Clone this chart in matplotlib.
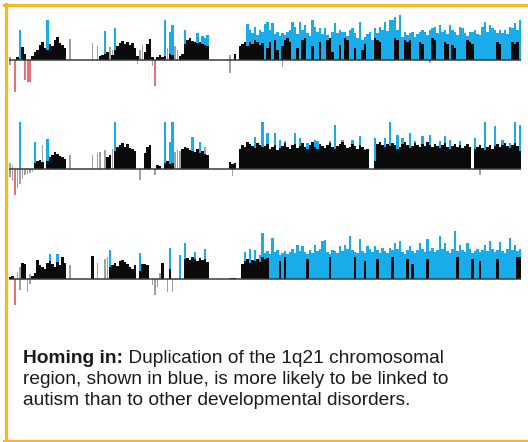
import numpy as np
import matplotlib.pyplot as plt
from matplotlib.lines import Line2D

# bar heights (pixels above / below the baseline), one entry per bar slot
r1_blue = [0,0,0,0,30,0,0,0,0,0,
           0,0,0,0,0,40,0,0,0,0,
           0,0,0,0,0,0,0,0,0,0,
           0,0,0,0,0,0,0,0,29,0,
           0,0,32,0,0,0,0,0,0,0,
           0,0,0,0,0,0,0,0,0,0,
           0,0,40,0,28,35,0,0,0,0,
           30,0,0,0,0,27,0,24,22,25,
           0,0,0,0,0,0,0,0,0,0,
           0,0,0,0,0,36,30,27,33,25,
           30,28,36,38,30,37,26,28,24,27,
           25,28,30,38,33,26,38,30,35,27,
           24,40,33,28,32,26,32,25,20,28,
           37,27,30,28,28,24,30,32,27,22,
           38,20,23,26,28,20,32,27,33,30,
           38,29,40,40,43,30,45,23,28,25,
           27,28,23,26,28,30,28,25,30,32,
           33,27,35,28,30,26,35,30,28,25,
           33,32,27,24,28,28,30,26,25,33,
           38,28,35,32,30,27,30,27,30,26,
           33,32,37,30,40]
r1_black = [0,0,0,3,0,13,6,0,0,4,
            8,10,15,18,12,10,16,14,20,23,
            17,15,12,0,0,0,0,0,0,0,
            0,0,0,0,0,0,4,5,6,8,
            0,5,10,14,17,19,16,18,15,17,
            12,4,0,0,8,16,21,3,0,3,
            5,3,4,0,6,5,0,0,4,6,
            16,20,22,19,18,17,18,16,15,14,
            0,0,0,0,0,0,0,0,0,0,
            6,0,14,16,18,14,18,16,20,18,
            15,17,0,12,18,0,20,10,0,14,
            20,22,18,0,0,12,0,20,22,0,
            0,14,0,0,18,0,0,20,22,8,
            0,0,15,0,22,20,0,0,12,0,
            0,10,16,0,0,0,22,20,18,0,
            0,0,0,0,22,20,0,0,20,18,
            20,0,0,0,18,16,0,0,0,22,
            20,0,0,0,18,16,0,15,12,0,
            0,0,0,20,18,16,0,0,0,0,
            0,0,0,0,0,18,16,0,0,0,
            0,18,16,18,0]
r1_grey_up = [(0,3),(24,21),(33,17),(35,14),(40,13),(41,10),(52,10),(53,15),
              (63,12),(66,14),(67,10),(88,5)]
r1_grey_dn = [(0,5),(7,10),(51,4),(57,6),(88,13),(109,7),(168,3)]
r1_red_dn = [(2,32),(6,20),(7,22),(8,22),(58,26)]

r2_blue = [0,0,0,0,47,0,0,0,0,0,
           27,0,0,0,0,30,0,0,0,0,
           0,0,0,0,0,0,0,0,0,0,
           0,0,0,0,0,0,0,0,0,0,
           0,0,47,0,0,0,0,0,0,0,
           0,0,0,0,0,0,0,0,0,0,
           0,0,47,0,27,47,0,0,0,0,
           0,0,0,32,0,0,27,0,0,0,
           0,0,0,0,0,0,0,0,0,0,
           0,0,0,0,0,0,0,0,32,0,
           0,47,0,36,0,0,36,0,29,0,
           28,0,0,0,36,0,31,0,0,26,
           0,0,29,28,0,0,0,0,28,0,
           44,0,0,29,0,0,0,29,0,0,
           33,0,0,0,0,0,31,0,0,0,
           31,0,47,0,0,34,0,31,0,0,
           36,0,28,0,0,33,0,0,34,0,
           0,0,28,0,33,0,29,0,0,0,
           28,0,0,0,0,0,31,0,0,0,
           47,0,0,0,43,0,0,29,0,0,
           26,0,47,0,44]
r2_black = [0,0,0,0,0,0,0,0,0,0,
            6,8,9,7,0,8,12,14,17,15,
            13,12,10,0,0,0,0,0,0,0,
            0,0,0,0,0,0,0,0,0,12,
            14,0,18,22,24,26,22,25,21,20,
            18,0,0,0,16,22,24,0,0,4,
            3,0,6,8,5,6,0,0,0,20,
            22,21,19,18,17,20,16,18,15,14,
            0,0,0,0,0,0,0,0,7,5,
            6,0,20,24,22,27,25,23,21,26,
            24,22,23,25,20,22,24,19,21,23,
            26,22,20,24,25,21,23,26,22,20,
            24,27,22,20,25,23,21,24,26,22,
            20,23,25,27,24,21,22,25,23,20,
            24,22,19,20,0,0,8,25,27,24,
            22,25,23,26,24,20,22,25,27,24,
            21,23,26,24,22,25,23,27,24,22,
            25,23,21,24,26,22,20,23,25,22,
            24,21,23,25,22,0,20,22,24,21,
            19,22,24,20,23,25,22,24,26,23,
            21,24,26,23,18]
r2_grey_up = [(0,6),(1,4),(13,24),(24,14),(33,14),(35,16),(36,17),(38,19),(41,20),
              (66,17),(67,19),(68,18),(78,22),(142,20)]
r2_grey_dn = [(0,8),(1,12),(3,19),(4,15),(5,10),(6,6),(7,5),(8,4),(9,3),
              (52,11),(58,6),(89,7),(188,6)]
r2_red_dn = [(2,26)]

r3_blue = [0,0,0,0,0,0,0,0,0,0,
           0,0,0,0,0,0,25,0,0,25,
           0,0,0,0,0,0,0,0,0,0,
           0,0,0,0,0,0,0,0,0,0,
           29,0,0,0,0,0,0,0,0,0,
           0,0,26,0,0,0,0,0,0,0,
           0,0,0,0,31,0,0,0,24,0,
           36,0,0,0,27,0,0,0,30,0,
           0,0,0,0,0,0,0,0,0,0,
           0,0,0,0,27,0,30,0,29,0,
           24,46,26,28,25,41,27,29,24,26,
           28,25,27,30,26,34,28,33,27,25,
           29,26,34,28,30,38,39,27,25,29,
           28,26,33,28,34,30,43,29,27,26,
           40,28,26,33,30,27,33,29,26,31,
           28,26,31,29,36,30,38,27,25,29,
           33,28,26,29,36,30,27,40,28,31,
           27,29,43,30,36,28,26,30,49,28,
           34,29,27,36,30,26,28,30,27,29,
           34,28,38,30,27,29,37,28,26,30,
           41,29,34,28,30]
r3_black = [2,3,0,0,0,16,15,0,0,3,
            6,19,14,12,10,16,18,15,12,17,
            14,22,16,0,0,0,0,0,0,0,
            0,0,0,23,0,0,0,0,0,0,
            12,14,16,13,18,19,17,15,12,10,
            14,0,8,15,15,14,0,0,0,0,
            0,16,0,0,10,0,0,0,0,0,
            20,21,19,22,20,18,21,19,20,17,
            0,0,0,0,0,0,0,0,1,1,
            1,0,0,15,18,20,16,19,18,20,
            17,22,20,21,0,0,0,0,18,0,
            22,0,0,0,0,0,0,0,0,20,
            0,0,0,0,0,0,0,0,22,0,
            0,0,0,0,0,0,0,0,22,0,
            0,0,18,0,0,0,0,20,0,0,
            0,0,0,22,0,0,0,0,0,20,
            0,15,0,0,0,0,0,20,0,0,
            0,0,0,0,0,0,0,0,0,22,
            0,0,0,0,0,20,0,0,18,0,
            0,0,0,0,0,20,0,0,0,0,
            0,0,0,22,22]
r3_grey_up = [(3,7),(4,12),(8,5),(24,14),(35,16),(38,20),(39,22),(60,6)]
r3_grey_dn = [(4,11),(7,13),(8,5),(57,6),(58,16),(59,8),(63,13),(65,13)]
r3_red_dn = [(2,26)]

caption_bold = "Homing in:"
caption_lines = [" Duplication of the 1q21 chromosomal",
                 "region, shown in blue, is more likely to be linked to",
                 "autism than to other developmental disorders."]

W, H = 528, 442
BLUE = '#18acea'
BLACK = '#0a0a0a'
GREY = '#a0a0a0'
RED = '#e8707a'
GOLD = '#f6b922'

fig = plt.figure(figsize=(W / 100, H / 100), dpi=100)


def box(x0, top, x1, bot):
    return [x0 / W, 1 - bot / H, (x1 - x0) / W, (bot - top) / H]


rows = [(60, r1_blue, r1_black, r1_grey_up, r1_grey_dn, r1_red_dn),
        (169, r2_blue, r2_black, r2_grey_up, r2_grey_dn, r2_red_dn),
        (279, r3_blue, r3_black, r3_grey_up, r3_grey_dn, r3_red_dn)]

for base, blue, black, gup, gdn, rdn in rows:
    ax = fig.add_axes(box(8.75, base - 48, 521.25, base + 40))
    n = len(blue)
    x = np.arange(n)
    gi, gh = zip(*gup)
    ax.bar(gi, gh, width=0.7, color=GREY, lw=0, zorder=1)
    ax.bar(x, blue, width=0.85, color=BLUE, lw=0, zorder=2)
    ax.bar(x, black, width=0.85, color=BLACK, lw=0, zorder=3)
    di, dh = zip(*gdn)
    ax.bar(di, -np.array(dh), width=0.6, color=GREY, lw=0, zorder=1)
    ri, rh = zip(*rdn)
    ax.bar(ri, -np.array(rh), width=0.8, color=RED, lw=0, zorder=2)
    ax.axhline(0, color='#3a3a3a', lw=1.1, zorder=4)
    ax.set_xlim(-0.5, n - 0.5)
    ax.set_ylim(-40, 48)
    ax.axis('off')

# frame (top, left, bottom; open on the right)
fig.add_artist(Line2D([4 / W, 1], [1 - 4.5 / H] * 2, color=GOLD, lw=2.3,
                      transform=fig.transFigure))
fig.add_artist(Line2D([5.5 / W] * 2, [1 - 3.5 / H, 1 - 440.5 / H], color=GOLD, lw=2.3,
                      transform=fig.transFigure))
fig.add_artist(Line2D([4 / W, 1], [1 - 440.5 / H] * 2, color=GOLD, lw=2.3,
                      transform=fig.transFigure))

fs = 13.8
fam = 'Liberation Sans'
tb = fig.text(23 / W, 1 - 363 / H, caption_bold, fontsize=fs, fontweight='bold',
              family=fam, color='#1a1a1a', va='baseline')
fig.canvas.draw()
bb = tb.get_window_extent()
fig.text(bb.x1 / W, 1 - 363 / H, caption_lines[0], fontsize=fs, family=fam,
         color='#1a1a1a', va='baseline')
fig.text(23 / W, 1 - 384 / H, caption_lines[1], fontsize=fs, family=fam,
         color='#1a1a1a', va='baseline')
fig.text(23 / W, 1 - 405 / H, caption_lines[2], fontsize=fs, family=fam,
         color='#1a1a1a', va='baseline')

fig.savefig('out.png', dpi=100, facecolor='white')
